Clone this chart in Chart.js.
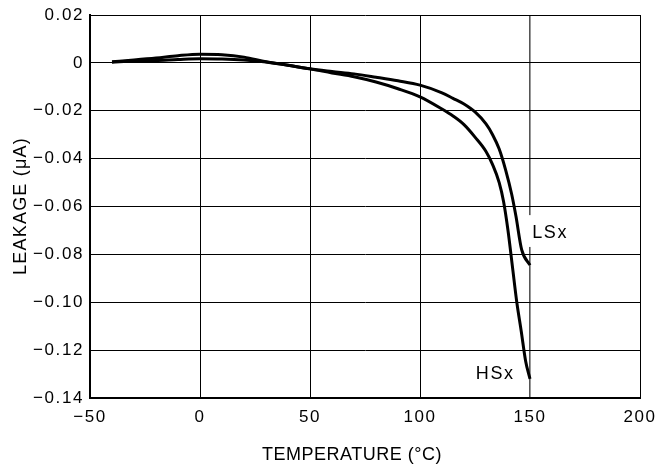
<!DOCTYPE html>
<html>
<head>
<meta charset="utf-8">
<script src="https://cdn.jsdelivr.net/npm/chart.js@4.4.0/dist/chart.umd.min.js"></script>
<style>
    html, body { margin: 0; padding: 0; background: #fff; }
    #wrap { width: 661px; height: 469px; }
</style>
</head>
<body>
<div id="wrap"><canvas id="leakage-chart" width="661" height="469"></canvas></div>
<script>
// Dados
const hsxTemp = [-40, -30, -20, -10, 0, 10, 20, 30, 40, 50, 60, 70, 80, 90, 100, 110, 115, 120, 125, 130, 133, 136, 138, 140, 142, 144, 146, 148, 150];
const hsxLeak = [0.0005, 0.0012, 0.002, 0.003, 0.0036, 0.0034, 0.0024, 0.0005, -0.001, -0.0025, -0.0042, -0.0058, -0.008, -0.0108, -0.0142, -0.0193, -0.0222, -0.0258, -0.031, -0.037, -0.0425, -0.050, -0.058, -0.070, -0.085, -0.100, -0.112, -0.1245, -0.132];

const lsxTemp = [-40, -30, -20, -10, 0, 10, 20, 30, 40, 50, 60, 70, 80, 90, 100, 110, 115, 120, 125, 130, 133, 136, 139, 141.7, 143.6, 146.2, 150];
const lsxLeak = [0.0003, 0.0008, 0.001, 0.0014, 0.0017, 0.0016, 0.0012, 0.0004, -0.001, -0.0025, -0.0036, -0.0046, -0.006, -0.0075, -0.0093, -0.0125, -0.0148, -0.0172, -0.0205, -0.0255, -0.030, -0.036, -0.045, -0.055, -0.064, -0.078, -0.0845];

const xTickValues = [-50, 0, 50, 100, 150, 200];
const yTickValues = [0.02, 0, -0.02, -0.04, -0.06, -0.08, -0.10, -0.12, -0.14];

const xTitle = 'TEMPERATURE (°C)';
const yTitle = 'LEAKAGE (\u03BCA)';

const FONT = '"Liberation Sans", Arial, Helvetica, sans-serif';
const TICK_SPACING = '1.6px';

function toPoints(xs, ys) {
    return xs.map((x, i) => ({ x: x, y: ys[i] }));
}

function minus(s) {
    return s.replace('-', '\u2212');
}

// Espaçamento das letras (o texto original é mais largo)
const spacing = {
    id: 'spacing',
    beforeUpdate(chart) { chart.ctx.letterSpacing = TICK_SPACING; },
    beforeDraw(chart) { chart.ctx.letterSpacing = TICK_SPACING; }
};

// Títulos, rótulos das curvas e falha na grade em 150
const annotations = {
    id: 'annotations',
    beforeDatasetsDraw(chart) {
        const { ctx, scales: { x, y } } = chart;
        const gx = x.getPixelForValue(150);
        const y1 = y.getPixelForValue(-0.0636);
        const y2 = y.getPixelForValue(-0.0769);
        ctx.save();
        ctx.fillStyle = '#fff';
        ctx.fillRect(gx - 2, y1, 4, y2 - y1);
        ctx.restore();
    },
    afterDatasetsDraw(chart) {
        const { ctx, scales: { x, y } } = chart;
        ctx.save();
        ctx.fillStyle = '#000';
        ctx.textBaseline = 'alphabetic';

        ctx.font = '18px ' + FONT;
        ctx.letterSpacing = '1.6px';
        ctx.textAlign = 'left';
        ctx.fillText('LSx', x.getPixelForValue(151), y.getPixelForValue(-0.0733));
        ctx.textAlign = 'right';
        ctx.fillText('HSx', x.getPixelForValue(143), y.getPixelForValue(-0.132));

        // Título do eixo X
        ctx.letterSpacing = '0.5px';
        ctx.textAlign = 'center';
        ctx.fillText(xTitle, 352, 460);

        // Título do eixo Y
        ctx.letterSpacing = '1.2px';
        ctx.translate(26, 206);
        ctx.rotate(-Math.PI / 2);
        ctx.fillText(yTitle, 0, 0);
        ctx.restore();
    }
};

const ctx = document.getElementById('leakage-chart').getContext('2d');
const leakageChart = new Chart(ctx, {
    type: 'scatter',
    data: {
        datasets: [{
            label: 'HSx',
            data: toPoints(hsxTemp, hsxLeak),
            showLine: true,
            borderColor: '#000',
            borderWidth: 3,
            pointRadius: 0,
            cubicInterpolationMode: 'monotone'
        }, {
            label: 'LSx',
            data: toPoints(lsxTemp, lsxLeak),
            showLine: true,
            borderColor: '#000',
            borderWidth: 3,
            pointRadius: 0,
            cubicInterpolationMode: 'monotone'
        }]
    },
    options: {
        responsive: false,
        animation: false,
        layout: { padding: { top: 15, right: 21, left: 0, bottom: 0 } },
        plugins: {
            legend: { display: false },
            tooltip: { enabled: false }
        },
        scales: {
            x: {
                type: 'linear',
                min: -50,
                max: 200,
                afterBuildTicks: s => { s.ticks = xTickValues.map(v => ({ value: v })); },
                afterFit: s => { s.height = 71; s.paddingLeft = 0; s.paddingRight = 0; },
                grid: {
                    color: c => (c.tick && c.tick.value === 150) ? '#555' : '#000',
                    lineWidth: c => (c.tick && c.tick.value === 150) ? 1.6 : 1,
                    drawTicks: false
                },
                border: { color: '#000', width: 2 },
                ticks: {
                    color: '#000',
                    padding: 9,
                    maxRotation: 0,
                    font: { family: FONT, size: 17 },
                    callback: v => minus(String(v))
                }
            },
            y: {
                type: 'linear',
                min: -0.14,
                max: 0.02,
                afterBuildTicks: s => { s.ticks = yTickValues.map(v => ({ value: v })); },
                afterFit: s => { s.width = 90; s.paddingTop = 0; s.paddingBottom = 0; },
                grid: { color: '#000', lineWidth: 1, drawTicks: false },
                border: { color: '#000', width: 2 },
                ticks: {
                    color: '#000',
                    padding: 6,
                    font: { family: FONT, size: 17 },
                    callback: v => Math.abs(v) < 1e-9 ? '0' : minus(v.toFixed(2))
                }
            }
        }
    },
    plugins: [spacing, annotations]
});
</script>
</body>
</html>
